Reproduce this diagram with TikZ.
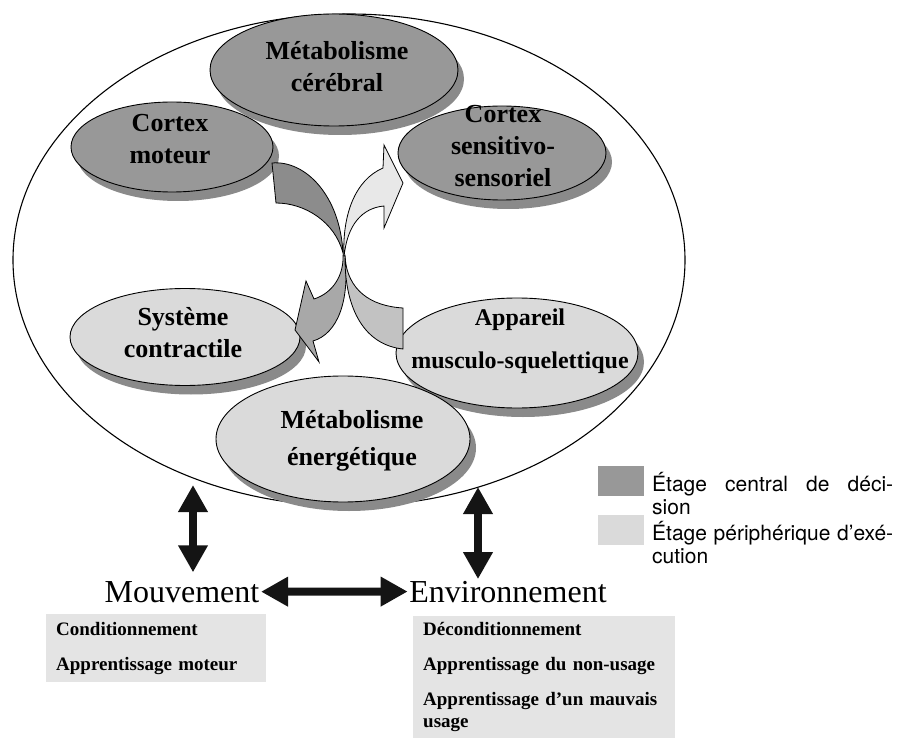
\documentclass[tikz,border=0pt]{standalone}
\usepackage{fontspec}
\setmainfont{Liberation Serif}
\newfontfamily\legendfont{TeX Gyre Heros}
\usetikzlibrary{arrows.meta,shapes.geometric,shadows}

\definecolor{centralgray}{RGB}{152,152,152}
\definecolor{periphgray}{RGB}{218,218,218}
\definecolor{shadowgray}{RGB}{138,138,138}
\definecolor{boxgray}{RGB}{228,228,228}
\definecolor{darkfold}{RGB}{140,140,140}
\definecolor{midfold}{RGB}{168,168,168}
\definecolor{lightfold}{RGB}{232,232,232}
\definecolor{palefold}{RGB}{194,194,194}

\tikzset{
  stage/.style={draw=black, line width=0.9pt, ellipse, inner sep=0pt,
    drop shadow={shadow xshift=6pt, shadow yshift=-9pt, fill=shadowgray, opacity=1}},
  stagetext/.style={align=center, inner sep=0pt, font={\fontsize{26}{32}\selectfont\bfseries}},
  foldarrow/.style={draw=black, line width=0.8pt},
  dblarrow/.style={line width=8pt, draw=black!92,
    {Triangle[width=28pt,length=27pt]}-{Triangle[width=28pt,length=27pt]}},
  bigword/.style={inner sep=1.5pt, font={\fontsize{32}{36}\selectfont}},
  infobox/.style={fill=boxgray, inner xsep=10pt, inner ysep=0pt, align=left,
    anchor=north west, font={\fontsize{19}{22}\selectfont\bfseries}},
  legbox/.style={minimum width=46pt, minimum height=30pt, inner sep=0pt},
  legtext/.style={anchor=west, align=left, inner sep=0pt,
    font={\legendfont\fontsize{21}{23}\selectfont}}
}

\begin{document}
\begin{tikzpicture}[x=1pt, y=-1pt]
  \fill[white] (0,0) rectangle (897,738);
  \useasboundingbox (0,0) rectangle (897,738);

  % outer ellipse
  \node[draw, line width=1.1pt, ellipse, minimum width=672pt, minimum height=492pt,
        inner sep=0pt] (outer) at (349,260) {};

  % central stage
  \node[stage, fill=centralgray, minimum width=248pt, minimum height=112pt] (cerebral) at (334,70) {};
  \node[stagetext] (cerebralt) at (337,67) {Métabolisme\\cérébral};
  \node[stage, fill=centralgray, minimum width=202pt, minimum height=90pt] (moteur) at (172,147) {};
  \node[stagetext] (moteurt) at (170,139) {Cortex\\moteur};
  \node[stage, fill=centralgray, minimum width=208pt, minimum height=94pt] (sensor) at (502,153) {};
  \node[stagetext] (sensort) at (503,146) {Cortex\\sensitivo-\\sensoriel};

  % peripheral stage
  \node[stage, fill=periphgray, minimum width=230pt, minimum height=97pt] (contract) at (185,337) {};
  \node[stagetext] (contractt) at (183,333) {Système\\contractile};
  \node[stage, fill=periphgray, minimum width=242pt, minimum height=110pt] (muscle) at (517,353) {};
  \node[stagetext, font={\fontsize{24}{43}\selectfont\bfseries}] (musclet) at (520,341) {Appareil\\musculo-squelettique};
  \node[stage, fill=periphgray, minimum width=254pt, minimum height=126pt] (energy) at (343,439) {};
  \node[stagetext, font={\fontsize{26}{37}\selectfont\bfseries}] (energyt) at (352,441) {Métabolisme\\énergétique};

  % crossed arrows
  \filldraw[foldarrow, fill=midfold] (343,255) .. controls (344,275) and (333,293) .. (314,299)
    -- (306,281) -- (295,330) -- (319,362) -- (313,341)
    .. controls (337,334) and (350,302) .. (345,255) -- cycle;
  \filldraw[foldarrow, fill=palefold] (345,258) .. controls (348,290) and (370,306) .. (403,308)
    -- (403,349) .. controls (365,345) and (345,310) .. (345,258) -- cycle;
  \filldraw[foldarrow, fill=darkfold] (272,163) .. controls (305,160) and (340,195) .. (343,253)
    .. controls (335,222) and (305,203) .. (276,203) -- cycle;
  \filldraw[foldarrow, fill=lightfold] (344,257) .. controls (342,215) and (355,180) .. (383,168)
    -- (384,145) -- (403,183) -- (384,228) -- (384,206)
    .. controls (362,208) and (347,225) .. (344,257) -- cycle;

  % legend
  \node[legbox, fill=centralgray] (legc) at (621,481) {};
  \node[legbox, fill=periphgray] (legp) at (621,530) {};
  \node[legtext] (legct) at (652,494) {\makebox[241pt][s]{Étage central de déci-}\\sion};
  \node[legtext] (legpt) at (652,543) {\makebox[241pt][s]{Étage périphérique d’exé-}\\cution};

  % bottom
  \node[bigword, anchor=base] (mouv) at (182,602) {Mouvement};
  \node[bigword, anchor=base] (env) at (508,602) {Environnement};
  \coordinate (mtop) at (193,485);
  \coordinate (etop) at (478,487);
  \draw[dblarrow] (mouv.east) -- (env.west);
  \draw[dblarrow, shorten >=7pt] (mtop) -- (mtop |- mouv.north);
  \draw[dblarrow] (etop) -- (etop |- env.north);

  \node[infobox, minimum width=220pt, minimum height=68pt, text width=200pt] (condbox) at (46,614)
    {Conditionnement\\[13pt]Apprentissage moteur};
  \node[infobox, minimum width=262pt, minimum height=122pt, text width=242pt] (decondbox) at (413,616)
    {Déconditionnement\\[13pt]Apprentissage du non-usage\\[13pt]Apprentissage d’un mauvais usage};
\end{tikzpicture}
\end{document}
